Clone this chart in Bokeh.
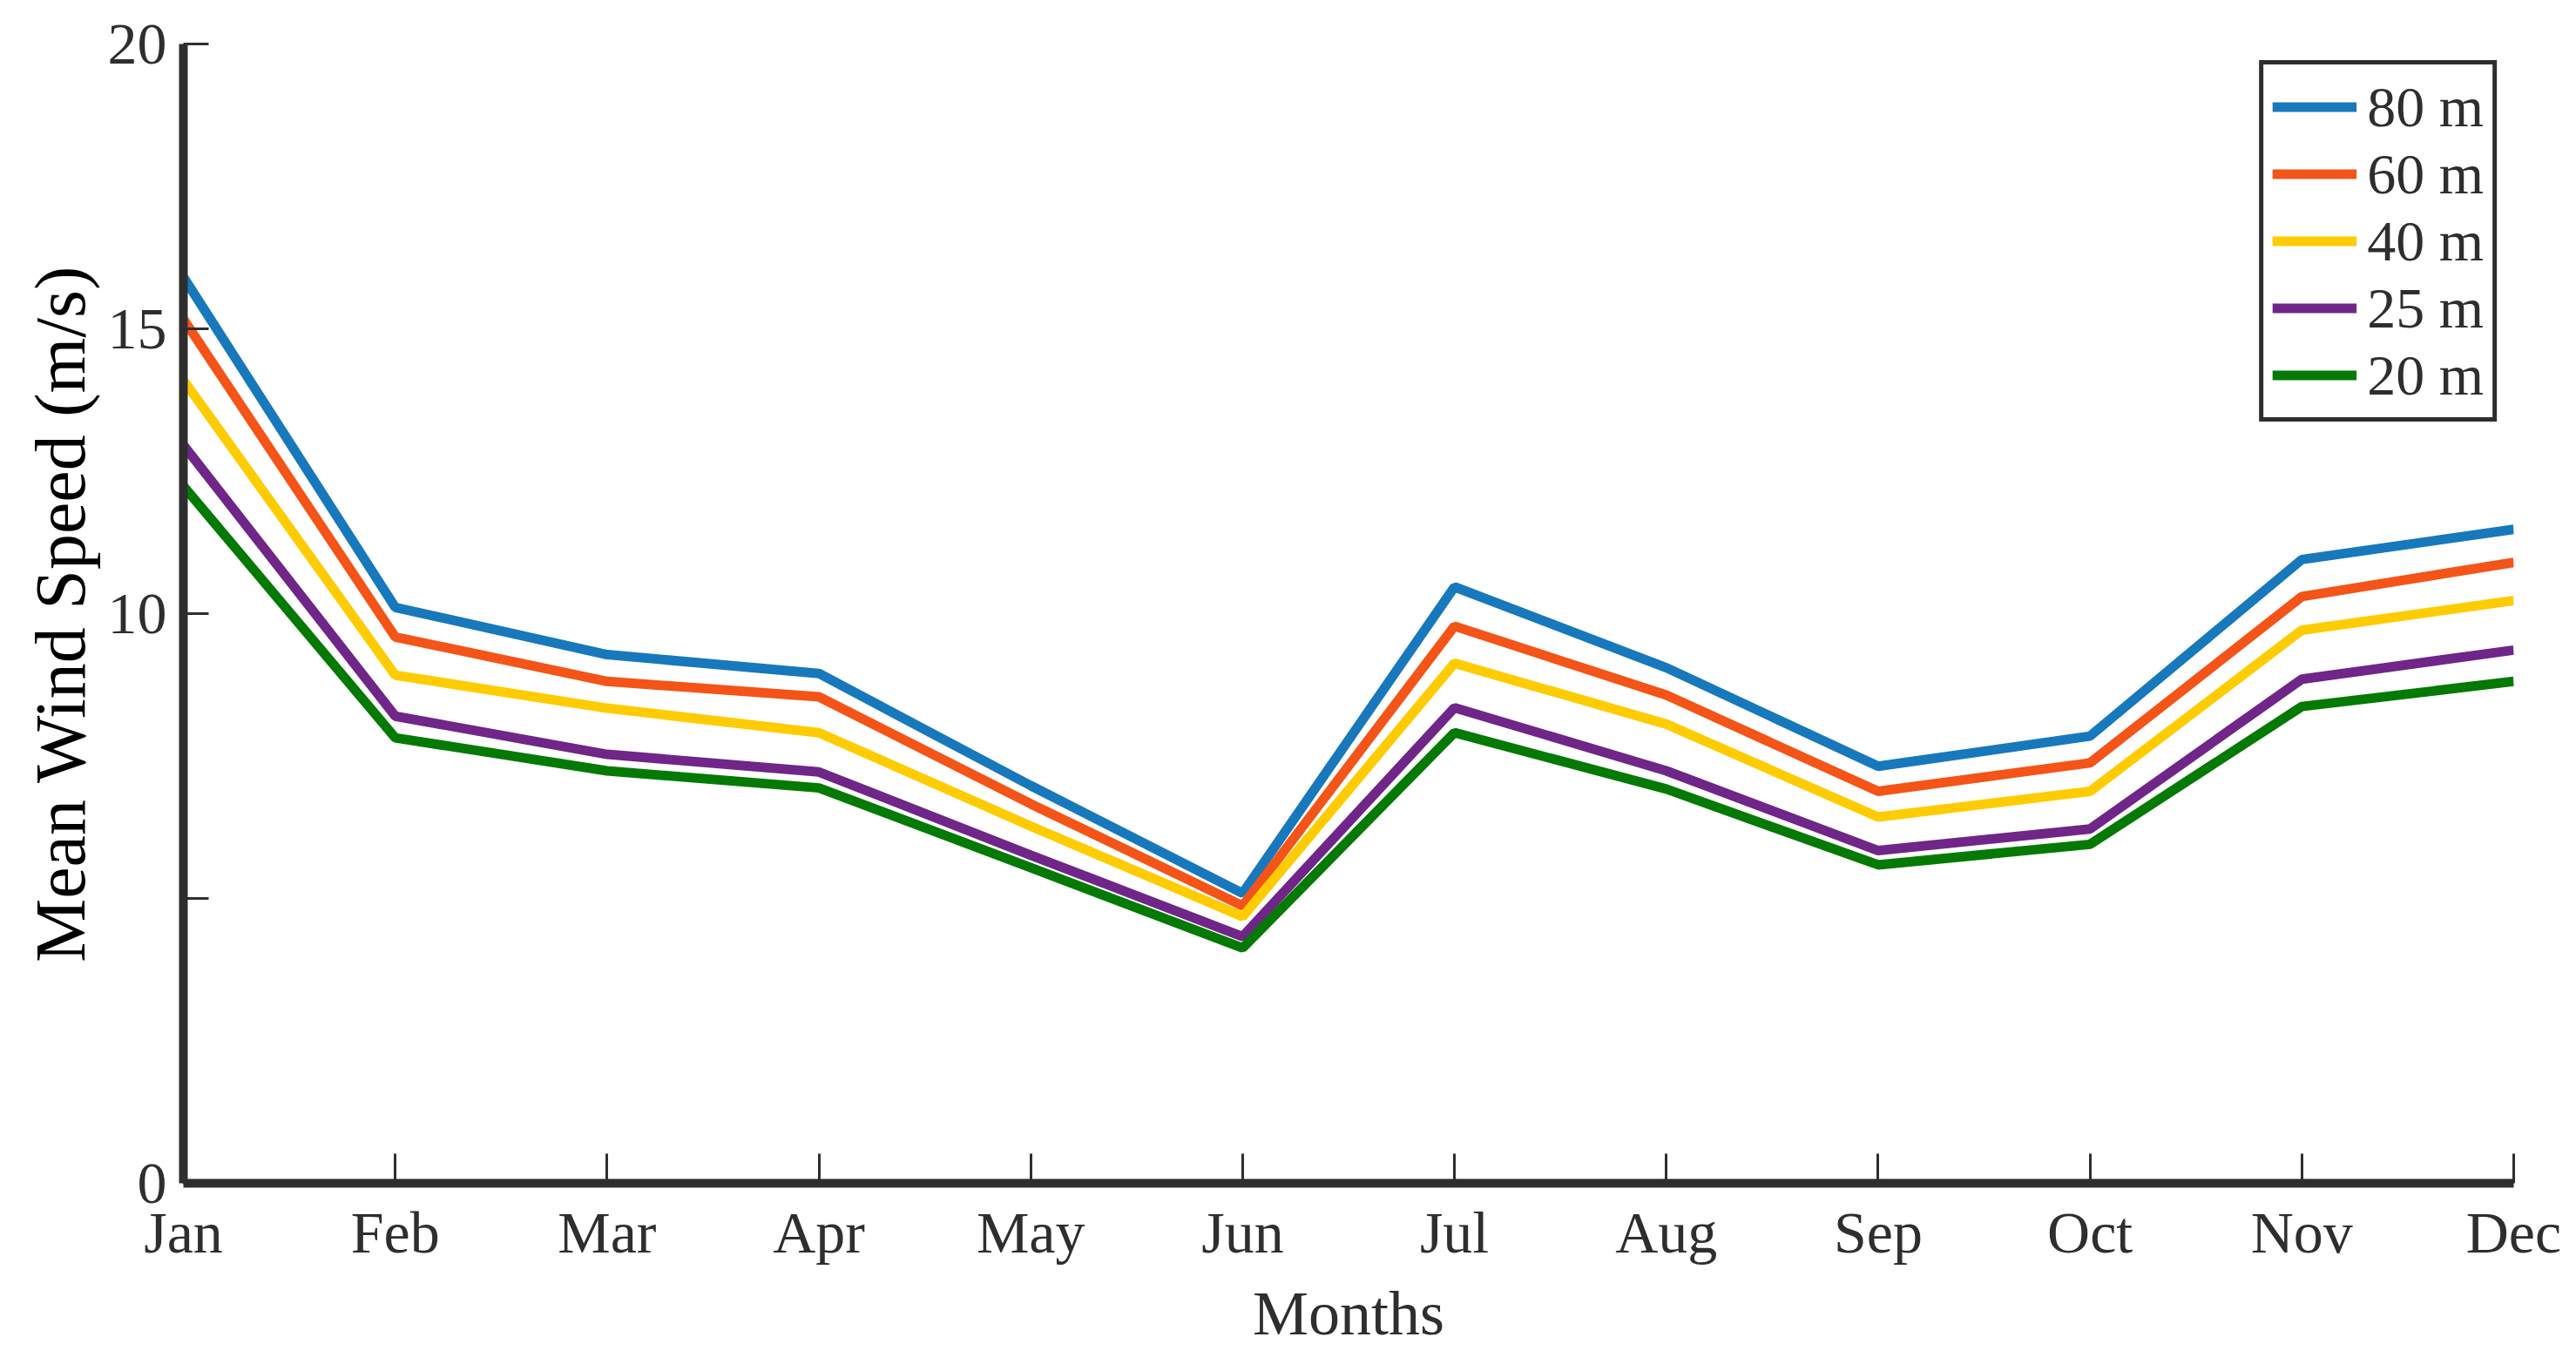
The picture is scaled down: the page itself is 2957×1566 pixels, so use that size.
from bokeh.plotting import figure
from bokeh.models import Range1d, FixedTicker, Legend, LegendItem
from bokeh.embed import file_html
from bokeh.resources import INLINE

months = ["Jan", "Feb", "Mar", "Apr", "May", "Jun", "Jul", "Aug", "Sep", "Oct", "Nov", "Dec"]
x_idx = list(range(12))

speed_80m = [15.91, 10.11, 9.28, 8.95, 6.98, 5.09, 10.47, 9.05, 7.32, 7.85, 10.95, 11.48]
speed_60m = [15.17, 9.59, 8.81, 8.54, 6.66, 4.87, 9.78, 8.57, 6.88, 7.38, 10.30, 10.90]
speed_40m = [14.10, 8.92, 8.34, 7.91, 6.27, 4.68, 9.13, 8.06, 6.43, 6.88, 9.71, 10.23]
speed_25m = [12.96, 8.20, 7.53, 7.22, 5.76, 4.33, 8.35, 7.24, 5.84, 6.22, 8.85, 9.36]
speed_20m = [12.24, 7.82, 7.24, 6.94, 5.54, 4.13, 7.91, 6.92, 5.59, 5.95, 8.37, 8.81]

series_labels = ["80 m", "60 m", "40 m", "25 m", "20 m"]
series_values = [speed_80m, speed_60m, speed_40m, speed_25m, speed_20m]
series_colors = ["#1878BC", "#F45418", "#FECC00", "#6F2688", "#047A04"]

y_ticks = [0, 5, 10, 15, 20]
y_tick_labels = {0: "0", 5: "", 10: "10", 15: "15", 20: "20"}

FONT = "Liberation Serif"
INK = "#2e2e2e"

p = figure(width=2941, height=1550, output_backend="svg", toolbar_location=None,
           x_range=Range1d(0, 11), y_range=Range1d(0, 20),
           min_border_left=210, min_border_right=56, min_border_top=50, min_border_bottom=188)
p.background_fill_color = "white"
p.border_fill_color = "white"
p.outline_line_color = None
p.xgrid.visible = False
p.ygrid.visible = False

items = []
for lab, vals, col in zip(series_labels, series_values, series_colors):
    r = p.line(x_idx, vals, line_color=col, line_width=11)
    items.append(LegendItem(label=lab, renderers=[r]))

legend = Legend(items=items, location="top_right")
legend.label_text_font = FONT
legend.label_text_font_size = "66px"
legend.label_text_color = INK
legend.glyph_width = 97
legend.glyph_height = 77
legend.label_height = 77
legend.label_standoff = 12
legend.spacing = 0
legend.padding = 10
legend.margin = 19
legend.border_line_color = INK
legend.border_line_alpha = 1.0
legend.border_line_width = 5
legend.background_fill_alpha = 1.0
p.add_layout(legend)

for ax in (p.xaxis[0], p.yaxis[0]):
    ax.axis_line_width = 10
    ax.axis_line_color = INK
    ax.major_tick_line_color = INK
    ax.major_tick_line_width = 3
    ax.major_tick_out = 0
    ax.minor_tick_line_color = None
    ax.major_label_text_font = FONT
    ax.major_label_text_font_size = "68px"
    ax.major_label_text_color = INK
    ax.axis_label_text_font = FONT
    ax.axis_label_text_font_style = "normal"

p.xaxis.ticker = FixedTicker(ticks=x_idx)
p.xaxis.major_label_overrides = {i: m for i, m in zip(x_idx, months)}
p.xaxis.axis_label = "Months"
p.xaxis.axis_label_text_font_size = "72px"
p.xaxis.axis_label_text_color = INK
p.xaxis.major_label_standoff = 18
p.xaxis.axis_label_standoff = 12
p.xaxis.major_tick_in = 34

p.yaxis.ticker = FixedTicker(ticks=y_ticks)
p.yaxis.major_label_overrides = y_tick_labels
p.yaxis.axis_label = "Mean Wind Speed (m/s)"
p.yaxis.axis_label_text_font_size = "82px"
p.yaxis.axis_label_text_color = "#000000"
p.yaxis.major_label_standoff = 19
p.yaxis.axis_label_standoff = 6
p.yaxis.major_tick_in = 29

open("out.html", "w").write(file_html(p, INLINE))
